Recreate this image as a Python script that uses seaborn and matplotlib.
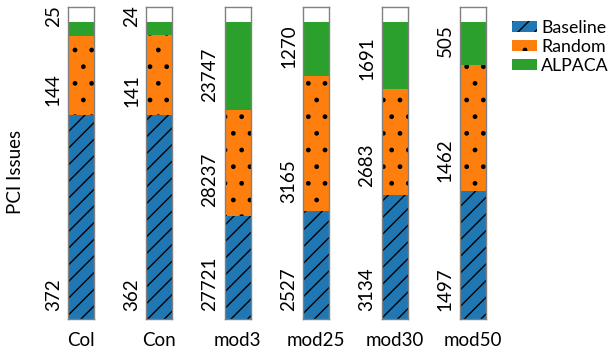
import numpy as np
import pandas as pd
import matplotlib
matplotlib.use("Agg")
import matplotlib.pyplot as plt
from matplotlib.patches import Patch
import seaborn as sns

# PCI issues found per dataset, per method
datasets = ["Col", "Con", "mod3", "mod25", "mod30", "mod50"]
baseline = [372, 362, 27721, 2527, 3134, 1497]
random_ = [144, 141, 28237, 3165, 2683, 1462]
alpaca = [25, 24, 23747, 1270, 1691, 505]

methods = ["Baseline", "Random", "ALPACA"]
colors = ["#1f77b4", "#ff7f0e", "#2ca02c"]
hatches = ["//", ".", ""]

plt.rcParams["font.family"] = ["Lato", "DejaVu Sans"]
plt.rcParams["hatch.color"] = "black"
plt.rcParams["hatch.linewidth"] = 1.0
FS = 13.5

df = pd.DataFrame({"dataset": datasets, "Baseline": baseline,
                   "Random": random_, "ALPACA": alpaca})
df["total"] = df[methods].sum(axis=1)
# cumulative share (top of each segment)
cum = df[methods].cumsum(axis=1).div(df["total"], axis=0)

fig = plt.figure(figsize=(6.13, 3.55), dpi=100)

for i, name in enumerate(datasets):
    ax = fig.add_axes([0.111 + i * 0.1279, 0.1014, 0.0424, 0.879])
    # draw from the tallest stack down so lower segments sit on top
    for j in reversed(range(len(methods))):
        sns.barplot(x=[name], y=[cum.loc[i, methods[j]]], ax=ax,
                    color=colors[j], saturation=1, width=1,
                    hatch=hatches[j], edgecolor="black", linewidth=0,
                    errorbar=None)
    # value labels next to the segment bottoms
    for j, m in enumerate(methods):
        bottom = 0 if j == 0 else cum.loc[i, methods[j - 1]]
        ax.annotate(str(df.loc[i, m]), xy=(0, bottom),
                    xycoords=ax.get_yaxis_transform(),
                    xytext=(-4.5, 6.0), textcoords="offset points",
                    rotation=90, ha="right", va="bottom", fontsize=FS)
    ax.set_xlim(-0.5, 0.5)
    ax.set_ylim(0, 1.05)
    ax.set_yticks([])
    ax.set_xlabel("")
    ax.set_ylabel("")
    ax.tick_params(axis="x", length=0, pad=9, labelsize=FS)
    for s in ax.spines.values():
        s.set_color("0.5")
        s.set_linewidth(1.0)

fig.text(0.0245, 0.515, "PCI Issues", rotation=90, ha="center",
         va="center", fontsize=FS)

handles = [Patch(facecolor=c, hatch=h, edgecolor="black", linewidth=0)
           for c, h in zip(colors, hatches)]
fig.legend(handles, methods, loc="upper left", bbox_to_anchor=(0.824, 0.964),
           borderaxespad=0, frameon=False, fontsize=12.8, handlelength=1.4,
           handleheight=0.55, handletextpad=0.22, labelspacing=0.17)

fig.savefig("out.png", dpi=100)
